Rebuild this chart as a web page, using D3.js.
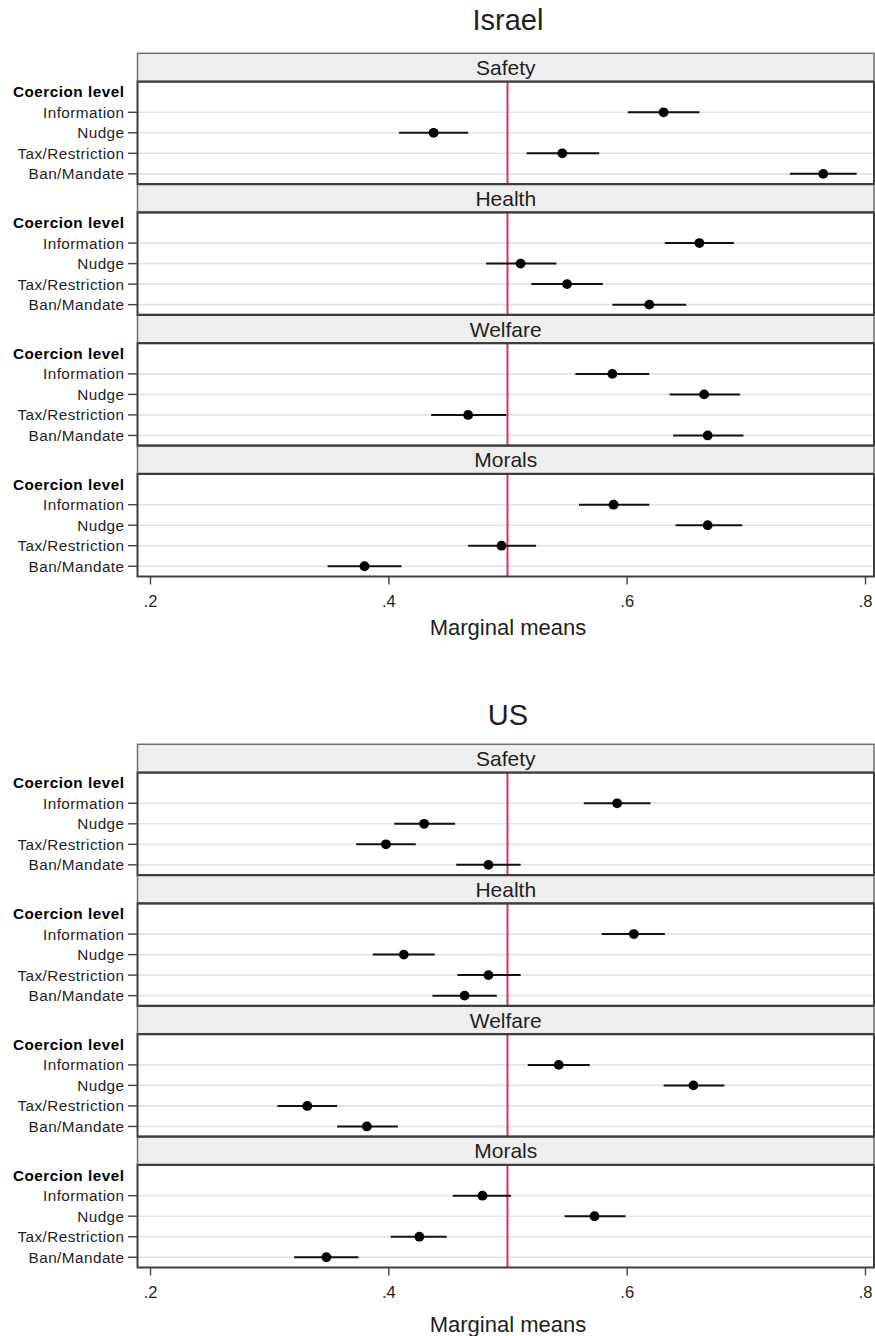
<!DOCTYPE html>
<html>
<head>
<meta charset="utf-8">
<script src="https://cdn.jsdelivr.net/npm/d3@7"></script>
<style>
  html, body { margin: 0; padding: 0; background: #fff; }
  svg { display: block; }
  text { font-family: "Liberation Sans", Arial, Helvetica, sans-serif; }
</style>
</head>
<body>
<svg id="chart" width="875" height="1336"></svg>
<script>
// ---------- data ----------
const countries = ["Israel", "US"];
const domains = ["Safety", "Health", "Welfare", "Morals"];
const levelHeader = "Coercion level";
const levels = ["Information", "Nudge", "Tax/Restriction", "Ban/Mandate"];
const xTicks = [0.2, 0.4, 0.6, 0.8];
const xTickLabels = [".2", ".4", ".6", ".8"];
const refValue = 0.5;
const xTitle = "Marginal means";

// Israel: point estimates and 95% CI per domain (rows follow `levels`)
const israelEst = [
  [0.631, 0.438, 0.546, 0.765],
  [0.661, 0.511, 0.550, 0.619],
  [0.588, 0.665, 0.467, 0.668],
  [0.589, 0.668, 0.495, 0.380]
];
const israelLo = [
  [0.601, 0.409, 0.516, 0.737],
  [0.632, 0.482, 0.520, 0.588],
  [0.557, 0.636, 0.436, 0.639],
  [0.560, 0.641, 0.467, 0.349]
];
const israelHi = [
  [0.661, 0.467, 0.577, 0.793],
  [0.690, 0.541, 0.580, 0.650],
  [0.619, 0.695, 0.499, 0.698],
  [0.619, 0.697, 0.524, 0.411]
];

// US
const usEst = [
  [0.592, 0.430, 0.398, 0.484],
  [0.606, 0.413, 0.484, 0.464],
  [0.543, 0.656, 0.332, 0.382],
  [0.479, 0.573, 0.426, 0.348]
];
const usLo = [
  [0.564, 0.405, 0.373, 0.457],
  [0.579, 0.387, 0.458, 0.437],
  [0.517, 0.631, 0.307, 0.357],
  [0.454, 0.548, 0.402, 0.321]
];
const usHi = [
  [0.620, 0.456, 0.423, 0.511],
  [0.632, 0.439, 0.511, 0.491],
  [0.569, 0.682, 0.357, 0.408],
  [0.503, 0.599, 0.449, 0.375]
];

const countryData = [
  { est: israelEst, lo: israelLo, hi: israelHi },
  { est: usEst, lo: usLo, hi: usHi }
];

// ---------- layout ----------
const svg = d3.select("#chart");
const frameL = 137.5, frameR = 874;
const titleX = 508;
const chartOffset = 691;
const titleY = [29.5, 34];        // relative to each chart block
const axisTitleDY = [58.5, 64];   // below last panel
const firstStripTop = 53.3;
const blockH = 130.8;
const stripH = 28.2;

const x = d3.scaleLinear().domain([0.2, 0.8]).range([150, 865]);

const gridColor = "#e3e3e3";
const frameColor = "#3d3d3d";
const stripStroke = "#707070";
const stripFill = "#eeeeee";
const refColor = "#d1375b";
const textColor = "#1e1e1e";

countries.forEach((cname, ci) => {
  const g = svg.append("g").attr("transform", `translate(0,${ci * chartOffset})`);
  const d = countryData[ci];

  g.append("text")
    .attr("x", titleX).attr("y", titleY[ci])
    .attr("text-anchor", "middle")
    .attr("font-size", 29)
    .attr("fill", textColor)
    .text(cname);

  let lastPanelBottom = 0;
  domains.forEach((dom, di) => {
    const stripTop = firstStripTop + di * blockH;
    const panelTop = stripTop + stripH;
    const panelBottom = stripTop + blockH;
    lastPanelBottom = panelBottom;

    const y = d3.scalePoint()
      .domain([levelHeader, ...levels])
      .range([panelTop, panelBottom])
      .padding(0.5);

    const fg = g.append("g");

    fg.append("rect")
      .attr("x", frameL).attr("y", panelTop)
      .attr("width", frameR - frameL).attr("height", panelBottom - panelTop)
      .attr("fill", "#fff");

    fg.selectAll("line.grid").data(levels).enter().append("line")
      .attr("class", "grid")
      .attr("x1", frameL).attr("x2", frameR)
      .attr("y1", v => y(v)).attr("y2", v => y(v))
      .attr("stroke", gridColor).attr("stroke-width", 1.6);

    fg.append("line")
      .attr("x1", x(refValue)).attr("x2", x(refValue))
      .attr("y1", panelTop).attr("y2", panelBottom)
      .attr("stroke", refColor).attr("stroke-width", 2);

    const rows = levels.map((lv, k) => ({
      lv, est: d.est[di][k], lo: d.lo[di][k], hi: d.hi[di][k]
    }));
    fg.selectAll("line.ci").data(rows).enter().append("line")
      .attr("class", "ci")
      .attr("x1", r => x(r.lo)).attr("x2", r => x(r.hi))
      .attr("y1", r => y(r.lv)).attr("y2", r => y(r.lv))
      .attr("stroke", "#111").attr("stroke-width", 2);
    fg.selectAll("circle.pt").data(rows).enter().append("circle")
      .attr("class", "pt")
      .attr("cx", r => x(r.est)).attr("cy", r => y(r.lv))
      .attr("r", 4.9).attr("fill", "#000");

    fg.selectAll("line.ytick").data(levels).enter().append("line")
      .attr("class", "ytick")
      .attr("x1", 128).attr("x2", frameL)
      .attr("y1", v => y(v)).attr("y2", v => y(v))
      .attr("stroke", "#444").attr("stroke-width", 1.4);
    fg.selectAll("text.ylab").data(levels).enter().append("text")
      .attr("class", "ylab")
      .attr("x", 124.5).attr("y", v => y(v))
      .attr("dy", "0.36em")
      .attr("text-anchor", "end")
      .attr("font-size", 15.3)
      .attr("letter-spacing", 0.45)
      .attr("fill", textColor)
      .text(v => v);
    fg.append("text")
      .attr("x", 124.5).attr("y", y(levelHeader))
      .attr("dy", "0.36em")
      .attr("text-anchor", "end")
      .attr("font-size", 15.3)
      .attr("font-weight", "bold")
      .attr("letter-spacing", 0.5)
      .attr("fill", "#000")
      .text(levelHeader);

    fg.append("rect")
      .attr("x", frameL).attr("y", panelTop)
      .attr("width", frameR - frameL).attr("height", panelBottom - panelTop)
      .attr("fill", "none")
      .attr("stroke", frameColor).attr("stroke-width", 2);

    fg.append("rect")
      .attr("x", frameL).attr("y", stripTop)
      .attr("width", frameR - frameL).attr("height", stripH)
      .attr("fill", stripFill)
      .attr("stroke", stripStroke).attr("stroke-width", 1.5);
    fg.append("line")
      .attr("x1", frameL).attr("x2", frameR)
      .attr("y1", panelTop).attr("y2", panelTop)
      .attr("stroke", frameColor).attr("stroke-width", 2.2);
    if (di > 0) {
      fg.append("line")
        .attr("x1", frameL).attr("x2", frameR)
        .attr("y1", stripTop).attr("y2", stripTop)
        .attr("stroke", frameColor).attr("stroke-width", 2.2);
    }
    fg.append("text")
      .attr("x", (frameL + frameR) / 2).attr("y", stripTop + stripH / 2)
      .attr("dy", "0.36em")
      .attr("text-anchor", "middle")
      .attr("font-size", 21)
      .attr("fill", textColor)
      .text(dom);
  });

  const axisG = g.append("g").attr("transform", `translate(0,${lastPanelBottom})`);
  const axis = d3.axisBottom(x)
    .tickValues(xTicks)
    .tickFormat((t, i) => xTickLabels[i])
    .tickSize(8)
    .tickPadding(10.5);
  axisG.call(axis);
  axisG.select(".domain").remove();
  axisG.selectAll(".tick line").attr("stroke", "#444").attr("stroke-width", 1.4);
  axisG.selectAll(".tick text")
    .attr("font-size", 16.5)
    .attr("font-family", "'Liberation Sans', Arial, sans-serif")
    .attr("fill", textColor);

  g.append("text")
    .attr("x", titleX).attr("y", lastPanelBottom + axisTitleDY[ci])
    .attr("text-anchor", "middle")
    .attr("font-size", 22)
    .attr("fill", textColor)
    .text(xTitle);
});
</script>
</body>
</html>
